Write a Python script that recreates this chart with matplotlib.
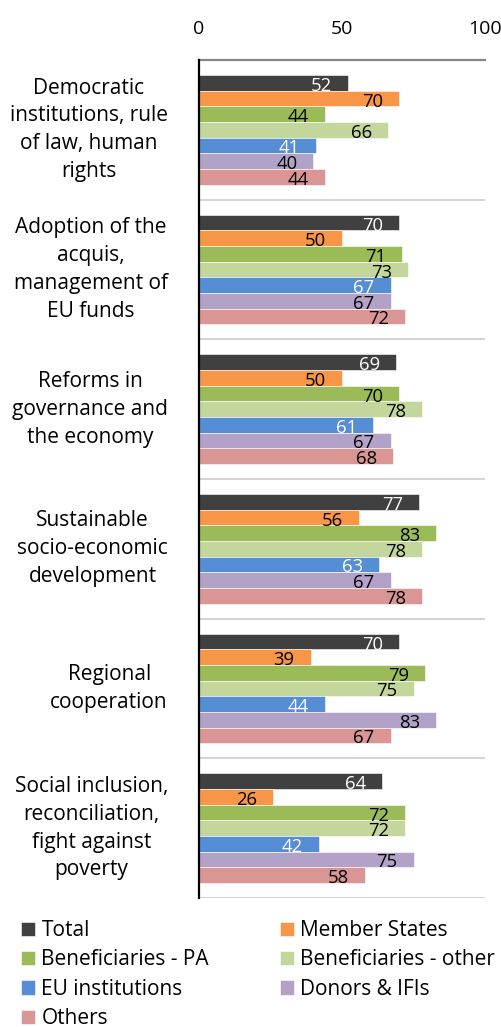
import matplotlib
matplotlib.use("Agg")
import matplotlib.pyplot as plt
import numpy as np

categories = [
    "Democratic\ninstitutions, rule\nof law, human\nrights",
    "Adoption of the\nacquis,\nmanagement of\nEU funds",
    "Reforms in\ngovernance and\nthe economy",
    "Sustainable\nsocio-economic\ndevelopment",
    "Regional\ncooperation",
    "Social inclusion,\nreconciliation,\nfight against\npoverty",
]
series_names = ["Total", "Member States", "Beneficiaries - PA", "Beneficiaries - other",
                "EU institutions", "Donors & IFIs", "Others"]
total = [52, 70, 69, 77, 70, 64]
member_states = [70, 50, 50, 56, 39, 26]
benef_pa = [44, 71, 70, 83, 79, 72]
benef_other = [66, 73, 78, 78, 75, 72]
eu_inst = [41, 67, 61, 63, 44, 42]
donors = [40, 67, 67, 67, 83, 75]
others = [44, 72, 68, 78, 67, 58]
xticks = [0, 50, 100]

series = [total, member_states, benef_pa, benef_other, eu_inst, donors, others]
colors = ["#404040", "#F79646", "#9BBB59", "#C3D69B", "#558ED5", "#B3A2C7", "#D99694"]
label_colors = ["white", "black", "black", "black", "white", "black", "black"]

plt.rcParams['font.family'] = ['Open Sans', 'DejaVu Sans']

fig = plt.figure(figsize=(5.02, 10.27), dpi=100)
ax = fig.add_axes([199/502, (1027-898)/1027, 286/502, 838/1027])

n = len(series)
bh = 0.112
y0 = np.arange(len(categories)) + 0.5
handles = []
for k, (vals, c, lc) in enumerate(zip(series, colors, label_colors)):
    ys = y0 - (n/2 - 0.5 - k) * bh
    b = ax.barh(ys, vals, height=bh, color=c, edgecolor="white", linewidth=0.4,
                label=series_names[k], zorder=3)
    handles.append(b)
    for yy, v in zip(ys, vals):
        ax.annotate(str(v), xy=(v, yy), xytext=(-16, -3), textcoords="offset pixels",
                    ha="right", va="center", color=lc, fontsize=13.3, zorder=4)

ax.set_xlim(0, 100)
ax.set_ylim(len(categories), 0)
for yb in range(1, len(categories) + 1):
    ax.axhline(yb, color="#D0D0D0", linewidth=1.3, zorder=1)

ax.xaxis.tick_top()
ax.set_xticks(xticks)
ax.tick_params(axis="x", length=0, pad=16, labelsize=14)
ax.set_yticks([])
for s in ["right", "bottom"]:
    ax.spines[s].set_visible(False)
ax.spines["top"].set_color("#868686")
ax.spines["top"].set_linewidth(1.6)
ax.spines["left"].set_color("black")
ax.spines["left"].set_linewidth(1.6)
ax.spines["left"].set_zorder(5)

for yc, cat in zip(y0, categories):
    ax.annotate(cat, xy=(0, yc), xytext=(-31, 0), textcoords="offset pixels",
                ha="right", va="center", multialignment="center",
                fontsize=15, linespacing=1.43, annotation_clip=False)

order = [0, 2, 4, 6, 1, 3, 5]
fig.legend([handles[i] for i in order], [series_names[i] for i in order],
           ncol=2, loc="upper left", bbox_to_anchor=(21/502, 1 - 920/1027),
           frameon=False, fontsize=15, handlelength=0.68, handleheight=0.68,
           handletextpad=0.3, labelspacing=0.4, columnspacing=3.4, borderaxespad=0,
           borderpad=0)

fig.savefig("out.png", dpi=100)
